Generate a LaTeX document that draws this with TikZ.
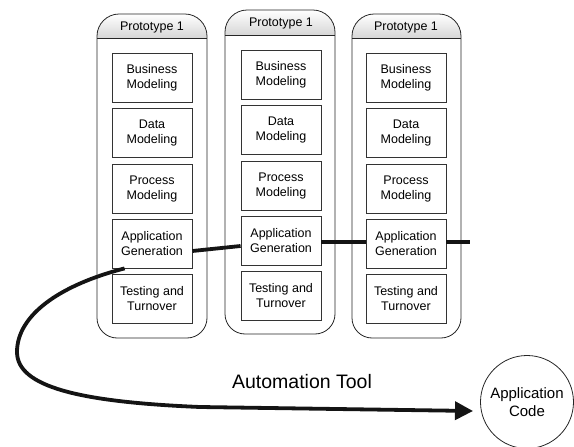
\documentclass[tikz,border=0pt]{standalone}
\usepackage{fontspec}
\setmainfont{Liberation Sans}
\usetikzlibrary{arrows.meta,calc}

\tikzset{
  phasebox/.style={draw=black!80, line width=0.8pt, minimum width=80pt, minimum height=49pt,
    inner sep=1pt, align=center, font=\fontsize{12.5}{15}\selectfont},
  colframe/.style={draw=black!85, line width=0.8pt},
  headfill/.style={top color=white, bottom color=black!16},
  heavy/.style={line width=3.8pt, draw=black!92},
  headtext/.style={font=\fontsize{12.5}{15}\selectfont, inner sep=0pt},
}

% one prototype column: left x, right x, top y, header rule y, bottom y, box centre x, vertical offset, name prefix
% top corners: quarter circles of radius 22, bottom corners: radius 20
\newcommand{\protocolumn}[8]{%
  \path[headfill] (#1,#4) -- (#1,{#3+22}) .. controls (#1,{#3+10}) and ({#1+10},#3) .. ({#1+22},#3)
    -- ({#2-22},#3) .. controls ({#2-10},#3) and (#2,{#3+10}) .. (#2,{#3+22}) -- (#2,#4) -- cycle;
  \draw[colframe] (#1,{#3+22}) .. controls (#1,{#3+10}) and ({#1+10},#3) .. ({#1+22},#3)
    -- ({#2-22},#3) .. controls ({#2-10},#3) and (#2,{#3+10}) .. (#2,{#3+22})
    -- (#2,{#5-20}) .. controls (#2,{#5-9}) and ({#2-9},#5) .. ({#2-20},#5)
    -- ({#1+20},#5) .. controls ({#1+9},#5) and (#1,{#5-9}) .. (#1,{#5-20}) -- cycle;
  \draw[colframe] (#1,#4) -- (#2,#4);
  \node[headtext] (#8h) at (#6,{(#3+#4)/2+1}) {Prototype 1};
  \node[phasebox] (#8bm) at (#6,{77.5+#7}) {Business\\Modeling};
  \node[phasebox] (#8dm) at (#6,{133+#7}) {Data\\Modeling};
  \node[phasebox] (#8pm) at (#6,{188.5+#7}) {Process\\Modeling};
  \node[phasebox] (#8ag) at (#6,{243.5+#7}) {Application\\Generation};
  \node[phasebox] (#8tt) at (#6,{298.5+#7}) {Testing and\\Turnover};
}

\begin{document}
\begin{tikzpicture}[x=1pt, y=-1pt]
  \useasboundingbox (0,0) rectangle (574,447);

  \protocolumn{97}{207}{14}{38}{338}{152}{0}{a}
  \protocolumn{225}{335}{10}{35}{334}{281}{-3}{b}
  \protocolumn{352}{461}{14}{38}{338}{406}{0}{c}

  % application code
  \node[draw=black!85, line width=0.8pt, circle, minimum size=93pt, inner sep=0pt, align=center,
        font=\fontsize{15}{17.5}\selectfont] (code) at (527,402) {Application\\Code};

  \node[font=\fontsize{19.5}{22}\selectfont, inner sep=0pt] (tool) at (302,382) {Automation Tool};

  \coordinate (tail) at (470,242);
  \coordinate (tip) at (473,411);

  % generation thread across the prototypes
  \draw[heavy] ([yshift=-7.5pt]aag.east) -- ([yshift=-5.5pt]bag.west);
  \draw[heavy] ([yshift=-1.5pt]bag.east) -- ([yshift=1.5pt]cag.west);
  \draw[heavy] ([yshift=1.5pt]cag.east) -- (tail);

  % automation tool loop down to the generated code
  \draw[heavy, -{Triangle[length=18pt,width=18pt]}]
    ([xshift=13pt]aag.south west) .. controls (60,285) and (17,315) .. (17,352)
    .. controls (17,387) and (80,402) .. (200,407) -- (tip);
\end{tikzpicture}
\end{document}
